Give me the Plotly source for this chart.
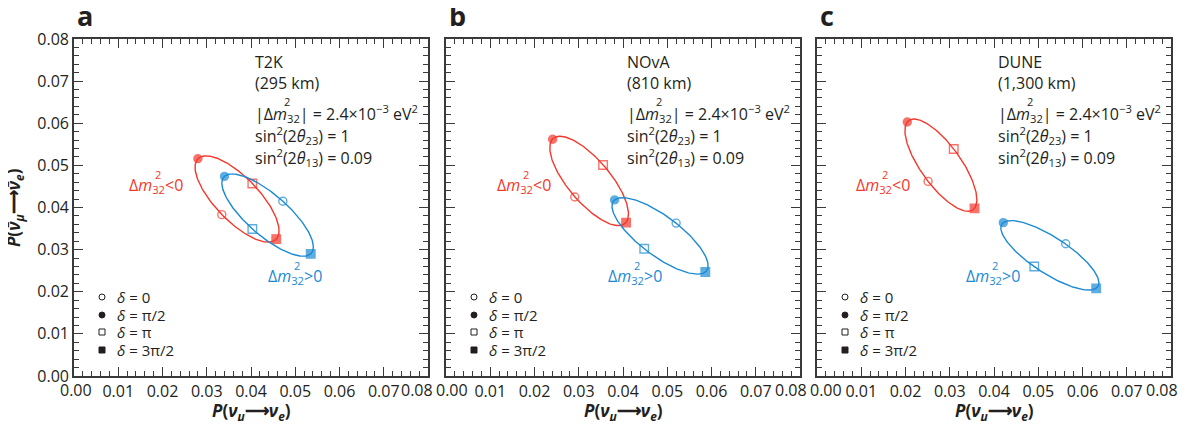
import numpy as np
import plotly.graph_objects as go

# page body has an 8px margin, so the figure is drawn 8px in from the corner
OFF = 8
W, H = 1186 - 2 * OFF, 429 - 2 * OFF
FONT = "Open Sans"
TXT = "#231f20"
AX = "#3a3a3a"
RED = "#f5372b"
BLUE = "#1b8ad3"

# ---------------- data ----------------
experiments = ["T2K", "NOvA", "DUNE"]
baselines = ["(295 km)", "(810 km)", "(1,300 km)"]
panel_letters = ["a", "b", "c"]
delta_values = ["0", "π/2", "π", "3π/2"]          # order of the points below
tick_vals = [0.00, 0.01, 0.02, 0.03, 0.04, 0.05, 0.06, 0.07, 0.08]

# P(nu_mu -> nu_e) and P(anti-nu_mu -> anti-nu_e) at delta = 0, pi/2, pi, 3pi/2
t2k_pos_nu = [0.0472, 0.0340, 0.0403, 0.0535]
t2k_pos_nubar = [0.0415, 0.0474, 0.0349, 0.0290]
t2k_neg_nu = [0.0334, 0.0280, 0.0403, 0.0457]
t2k_neg_nubar = [0.0383, 0.0516, 0.0457, 0.0325]

nova_pos_nu = [0.0520, 0.0381, 0.0448, 0.0586]
nova_pos_nubar = [0.0363, 0.0418, 0.0302, 0.0247]
nova_neg_nu = [0.0291, 0.0241, 0.0355, 0.0407]
nova_neg_nubar = [0.0425, 0.0562, 0.0501, 0.0364]

dune_pos_nu = [0.0562, 0.0421, 0.0491, 0.0631]
dune_pos_nubar = [0.0314, 0.0364, 0.0260, 0.0208]
dune_neg_nu = [0.0251, 0.0204, 0.0309, 0.0356]
dune_neg_nubar = [0.0462, 0.0603, 0.0539, 0.0398]

panels = [
    (t2k_pos_nu, t2k_pos_nubar, t2k_neg_nu, t2k_neg_nubar),
    (nova_pos_nu, nova_pos_nubar, nova_neg_nu, nova_neg_nubar),
    (dune_pos_nu, dune_pos_nubar, dune_neg_nu, dune_neg_nubar),
]

# ---------------- layout geometry (reference pixels) ----------------
panel_left = [74, 446, 817]
panel_w = 354
plot_top, plot_bot = 39, 376
tick_label_y = 390
end_label_shift = [(2, -11), (6, -9), (9, -9)]   # shifts of 0.00 / 0.08 labels
neg_label_x = [127, 495, 854]
pos_label_x = [266, 606, 964]
neg_label_y, pos_label_y = 185, 276
key_rows = [297, 315, 332, 350]
info_rows = [62, 83, 113, 135, 157]


def px(x, y):
    return (x - OFF) / W, 1 - (y - OFF) / H


symbols = ["circle-open", "circle", "square-open", "square"]
sizes = [8, 8, 8.5, 8.5]


def cp_curve(p):
    """Oscillation probability vs delta: P = A + B cos(d) + C sin(d),
    fixed by the four read points at d = 0, pi/2, pi, 3pi/2."""
    p = np.asarray(p)
    a = p.mean()
    b = (p[0] - p[2]) / 2
    c = (p[1] - p[3]) / 2
    d = np.linspace(0, 2 * np.pi, 241)
    return a + b * np.cos(d) + c * np.sin(d)


fig = go.Figure()
annotations = []
shapes = []


def note(text, x, y, size, color=TXT, xanchor="left", **kw):
    xp, yp = px(x, y)
    annotations.append(dict(text=text, x=xp, y=yp, xref="paper", yref="paper",
                            xanchor=xanchor, yanchor="middle", showarrow=False,
                            font=dict(family=FONT, size=size, color=color), **kw))


def dm_text(x, y, size, color, prefix, suffix, dm_width):
    """Δm with a stacked superscript 2 over the subscript 32."""
    note(f"{prefix}Δ<i>m</i><sub>32</sub>{suffix}", x, y, size, color)
    note("2", x + dm_width, y - 11, 11, color)


axis_common = dict(
    range=[0, 0.08], tickvals=tick_vals,
    ticks="inside", ticklen=9, tickwidth=1.3, tickcolor=AX,
    showline=True, linecolor=AX, linewidth=1.6, mirror="allticks",
    showgrid=False, zeroline=False, automargin=False,
    minor=dict(dtick=0.002, tick0=0, ticks="inside", ticklen=5,
               tickwidth=1.2, tickcolor=AX, showgrid=False),
    tickfont=dict(family=FONT, size=16, color=TXT),
    fixedrange=True,
)

for i, (pos_nu, pos_nubar, neg_nu, neg_nubar) in enumerate(panels):
    xa = "x" if i == 0 else f"x{i+1}"
    ya = "y" if i == 0 else f"y{i+1}"
    for nu, nubar, col in [(neg_nu, neg_nubar, RED), (pos_nu, pos_nubar, BLUE)]:
        fig.add_trace(go.Scatter(
            x=cp_curve(nu), y=cp_curve(nubar), mode="lines",
            line=dict(color=col, width=1.4), xaxis=xa, yaxis=ya,
            showlegend=False, hoverinfo="skip"))
        fig.add_trace(go.Scatter(
            x=nu, y=nubar, mode="markers", xaxis=xa, yaxis=ya,
            marker=dict(symbol=symbols, size=sizes, color=col,
                        line=dict(color=col, width=1.4)),
            showlegend=False))

    L = panel_left[i]
    xdom = [(L - OFF) / W, (L + panel_w - OFF) / W]
    ydom = [1 - (plot_bot - OFF) / H, 1 - (plot_top - OFF) / H]
    xkey = "xaxis" if i == 0 else f"xaxis{i+1}"
    ykey = "yaxis" if i == 0 else f"yaxis{i+1}"
    fig.update_layout({
        xkey: dict(axis_common, domain=xdom, anchor=ya,
                   ticktext=[""] + [f"{v:.2f}" for v in tick_vals[1:-1]] + [""]),
        ykey: dict(axis_common, domain=ydom, anchor=xa,
                   ticktext=[f"{v:.2f}" for v in tick_vals],
                   showticklabels=(i == 0)),
    })
    # end labels of the x axis (0.00 and 0.08), nudged inwards as in the original
    _, ty = px(0, tick_label_y)
    for v, sh in zip([tick_vals[0], tick_vals[-1]], end_label_shift[i]):
        annotations.append(dict(
            text=f"{v:.2f}", x=v, xref=xa, y=ty, yref="paper", xshift=sh,
            xanchor="center", yanchor="middle", showarrow=False,
            font=dict(family=FONT, size=16, color=TXT)))

    # panel letter
    note(f"<b>{panel_letters[i]}</b>", L + 1, 16, 27)
    # info text
    note(experiments[i], L + 179, info_rows[0], 16)
    note(baselines[i], L + 179, info_rows[1], 16)
    dm_text(L + 179, info_rows[2], 16, TXT, "|",
            "| = 2.4×10<sup>−3</sup> eV<sup>2</sup>", 29)
    note("sin<sup>2</sup>(2<i>θ</i><sub>23</sub>) = 1", L + 179, info_rows[3], 16)
    note("sin<sup>2</sup>(2<i>θ</i><sub>13</sub>) = 0.09", L + 179, info_rows[4], 16)
    # hierarchy labels
    dm_text(neg_label_x[i], neg_label_y, 16, RED, "", "&lt;0", 25.5)
    dm_text(pos_label_x[i], pos_label_y, 16, BLUE, "", "&gt;0", 25.5)
    # delta key
    for k, (dv, yy) in enumerate(zip(delta_values, key_rows)):
        cx, cy = px(L + 28, yy)
        filled = k in (1, 3)
        kind = "circle" if k < 2 else "rect"
        shapes.append(dict(type=kind, xref="paper", yref="paper",
                           xsizemode="pixel", ysizemode="pixel",
                           xanchor=cx, yanchor=cy,
                           x0=-3, x1=3, y0=-3, y1=3,
                           line=dict(color=TXT, width=1),
                           fillcolor=TXT if filled else "rgba(0,0,0,0)"))
        note(f"<i>δ</i> = {dv}", L + 41, yy, 15)
    # x-axis title
    note("<b><i>P</i>(<i>ν</i><sub><i>μ</i></sub>⟶<i>ν</i><sub><i>e</i></sub>)</b>",
         L + panel_w / 2, 411, 17, xanchor="center")

# y-axis title
note("<b><i>P</i>(<i>ν̄</i><sub><i>μ</i></sub>⟶<i>ν̄</i><sub><i>e</i></sub>)</b>",
     15, 208, 17, xanchor="center", textangle=-90)

fig.update_layout(
    width=W, height=H, margin=dict(l=0, r=0, t=0, b=0),
    paper_bgcolor="white", plot_bgcolor="white",
    annotations=annotations, shapes=shapes, showlegend=False,
    font=dict(family=FONT, color=TXT),
)

fig.write_html("out.html")
